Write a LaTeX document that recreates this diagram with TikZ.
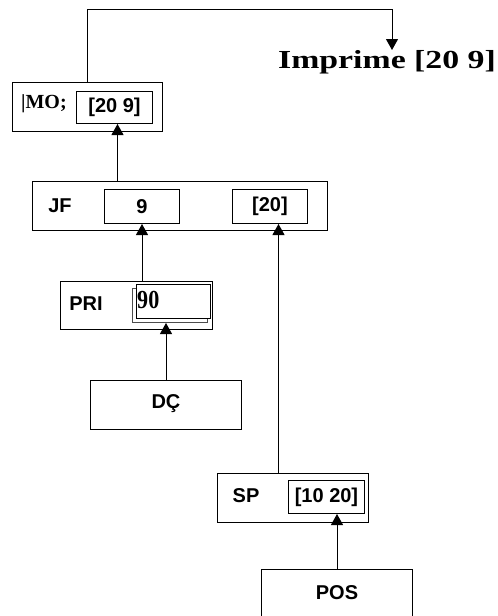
\documentclass[tikz,border=0pt]{standalone}
\usepackage{fontspec}
\usepackage{tikz}
\usetikzlibrary{positioning}
\usetikzlibrary{arrows.meta}
\usetikzlibrary{calc}
\newfontfamily\boxfont{Liberation Sans}
\newfontfamily\serfont{Liberation Serif}
\newfontfamily\numfont{Liberation Serif}[FakeStretch=0.85]
\newfontfamily\impfont{Liberation Serif}[FakeStretch=1.3]
\tikzstyle{outerbox}=[rectangle,draw,line width=1pt,inner sep=0pt,anchor=north west]
\tikzstyle{valbox}=[rectangle,draw,line width=1pt,inner sep=0pt,anchor=north west,font=\boxfont\bfseries\fontsize{20}{22}\selectfont]
\tikzstyle{lab}=[inner sep=0pt,anchor=base,font=\boxfont\bfseries\fontsize{20}{22}\selectfont]
\tikzstyle{edge} = [draw,line width=1pt,-{Triangle[width=12pt,length=11pt]}]
\begin{document}
\begin{tikzpicture}[x=1pt,y=-1pt]
    \useasboundingbox (0,0) rectangle (498,616);

%outer boxes
    \foreach \pos/\name/\w/\h in {{(12,82)/mo/150/49}, {(32,181)/jf/295/49}, {(60,281)/pri/152/48}, {(90,380)/dc/151/49}, {(217,473)/sp/151/49}, {(261,569)/pos/151/51}}
        \node[outerbox, minimum width=\w pt, minimum height=\h pt] (\name) at \pos {};
%value boxes
    \foreach \pos/\name/\w/\h/\label in {{(76,91)/moval/76/32/[20 9]}, {(104,189)/jfa/75/34/9}, {(232,189)/jfb/75/34/[20]}, {(288,480)/spval/76/33/[10 20]}}
        \node[valbox, minimum width=\w pt, minimum height=\h pt] (\name) at \pos {\label};
%PRI value, double box
    \node[outerbox, draw=black!70, minimum width=75pt, minimum height=34pt] (pribk) at (132,288) {};
    \node[outerbox, fill=white, minimum width=74pt, minimum height=34pt] (prival) at (136,284) {};
    \node[inner sep=0pt, anchor=base west, font=\numfont\bfseries\fontsize{26}{28}\selectfont] (prinum) at (137,308) {90};

%labels
    \foreach \pos/\name/\label in {{(60,212)/jflab/JF}, {(86,310)/prilab/PRI}, {(166,408)/dclab/DÇ}, {(246,502)/splab/SP}, {(337,599)/poslab/POS}}
        \node[lab] (\name) at \pos {\label};
    \node[inner sep=0pt, anchor=base west, font=\serfont\bfseries\fontsize{20}{22}\selectfont] (molab) at (21,108) {|MO;};
    \node[inner sep=0pt, anchor=base, font=\impfont\bfseries\fontsize{26}{28}\selectfont] (imprime) at (387,68) {Imprime [20 9]};

% Connect boxes
    \coordinate (topy) at (0,9);
    \coordinate (prt) at (392,50);
    \coordinate (a209) at ($(moval.south)+(3,0)$);
    \coordinate (a20) at ($(jfb.south)+(8.5,0)$);
    \draw[edge] (mo.north) -- (mo.north |- topy) -| (prt);
    \draw[edge] (a209 |- jf.north) -- (a209);
    \draw[edge] (jfa.south |- pri.north) -- (jfa.south);
    \draw[edge] (a20 |- sp.north) -- (a20);
    \draw[edge] (dc.north) -- (dc.north |- pribk.south);
    \draw[edge] (pos.north) -- (pos.north |- spval.south);

\end{tikzpicture}
\end{document}
